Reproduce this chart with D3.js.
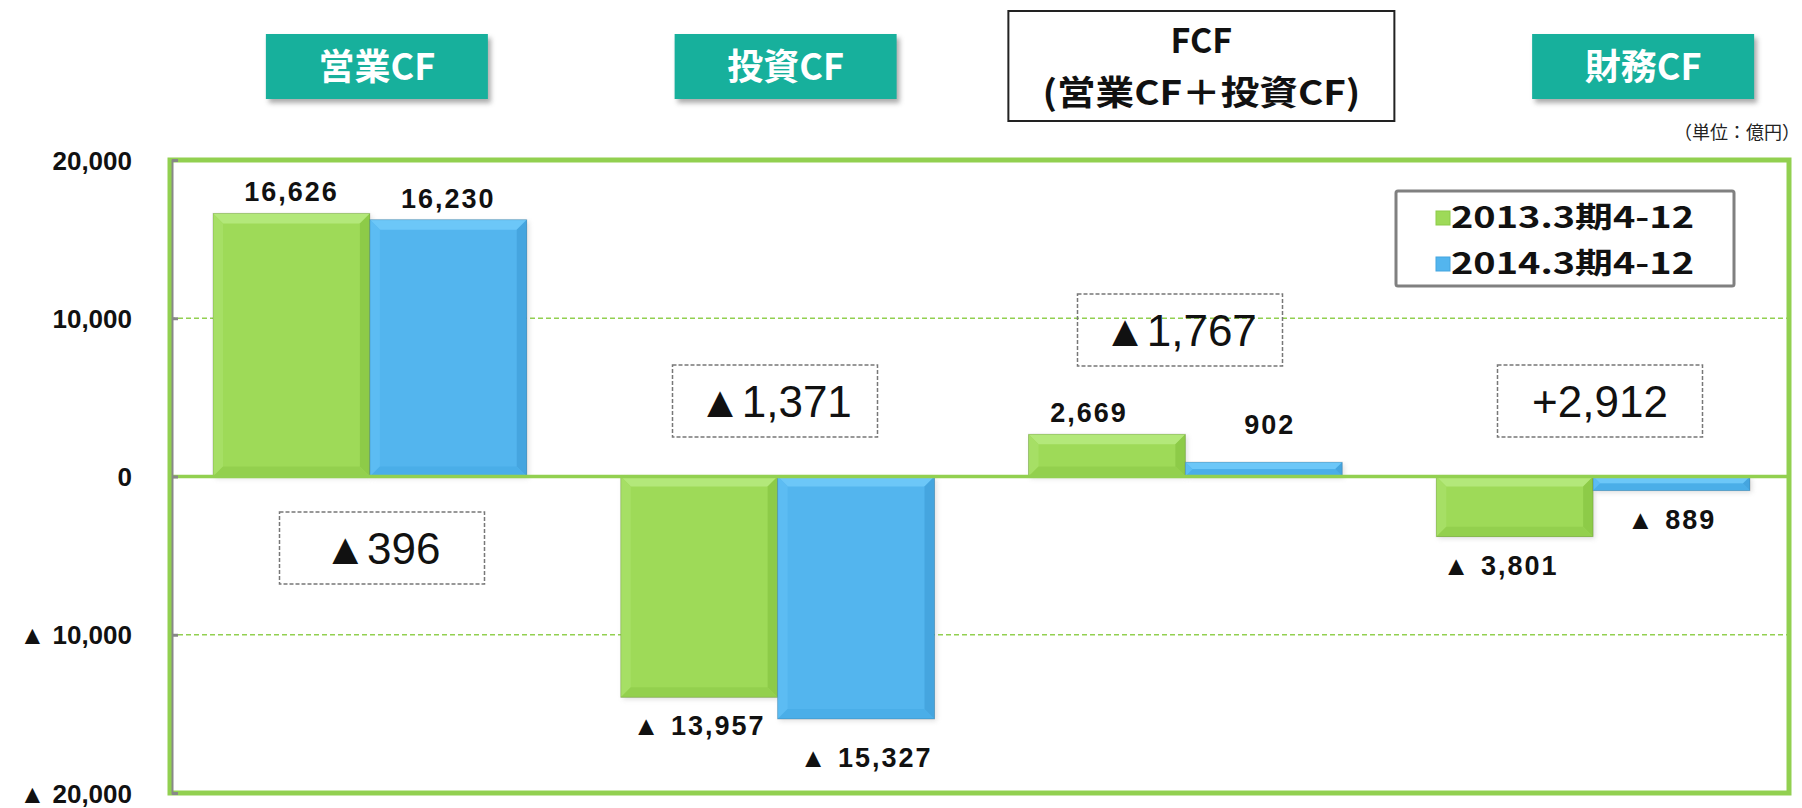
<!DOCTYPE html>
<html><head><meta charset="utf-8">
<script src="https://cdn.jsdelivr.net/npm/d3@7"></script>
<style>
html,body{margin:0;padding:0;background:#fff;}
svg{display:block;}
.num{font-family:"Liberation Sans Narrow","Liberation Sans",Arial,sans-serif;}
.jp{font-family:"Noto Sans CJK JP","Noto Sans",sans-serif;}
</style></head>
<body>
<svg id="chart" width="1802" height="808"></svg>
<script>
// ---- data ----
const categories = ["営業CF", "投資CF", "FCF", "財務CF"];
const headerLines = [["営業CF"], ["投資CF"], ["FCF", "(営業CF＋投資CF)"], ["財務CF"]];
const seriesNames = ["2013.3期4-12", "2014.3期4-12"];
const values2013 = [16626, -13957, 2669, -3801];
const values2014 = [16230, -15327, 902, -889];
const diffLabels = ["▲396", "▲1,371", "▲1,767", "+2,912"];
const yTicks = [20000, 10000, 0, -10000, -20000];
const unitLabel = "（単位：億円）";

// ---- layout ----
const svg = d3.select("#chart");
const frame = {left: 170, right: 1789, top: 160, bottom: 793};
const colors = {
  green: {main: "#9EDA58", light: "#B3E87A", dark: "#8DCB48", side: "#A6DF65", bottom: "#93D04E"},
  blue:  {main: "#53B5EE", light: "#6CC7F8", dark: "#45A5DF", side: "#5CBCF3", bottom: "#4AAEE8"}
};
const seriesColors = [colors.green, colors.blue];

const y = d3.scaleLinear().domain([-20000, 20000]).range([frame.bottom, frame.top]);
const x0 = d3.scaleBand().domain(categories).range([166, 1797]).padding(0);
const bw = x0.bandwidth();
const x1 = d3.scaleBand().domain(seriesNames).range([47, bw - 47]).padding(0);

const defs = svg.append("defs");
const blur = defs.append("filter").attr("id", "shadow").attr("x", "-20%").attr("y", "-20%").attr("width", "140%").attr("height", "150%");
blur.append("feGaussianBlur").attr("stdDeviation", 2.5);

// header boxes
const headerOffsets = [7, 8, 16, 50];
categories.forEach((c, i) => {
  const cx = x0(c) + bw / 2 + headerOffsets[i];
  const g = svg.append("g");
  if (i === 2) {
    const w = 386, h = 110, top = 11;
    g.append("rect").attr("x", cx - w / 2).attr("y", top).attr("width", w).attr("height", h)
      .attr("fill", "#fff").attr("stroke", "#222").attr("stroke-width", 2);
    headerLines[i].forEach((t, k) => {
      const tx = g.append("text").attr("class", "jp").attr("x", cx).attr("y", top + 42 + k * 52)
        .attr("text-anchor", "middle").attr("font-size", 34).attr("font-weight", "bold")
        .attr("fill", "#111").text(t);
      if (k === 1) tx.attr("textLength", 318).attr("lengthAdjust", "spacingAndGlyphs");
    });
  } else {
    const w = 222, h = 65, top = 34;
    g.append("rect").attr("x", cx - w / 2 + 3).attr("y", top + 4).attr("width", w).attr("height", h)
      .attr("fill", "#888").attr("opacity", 0.7).attr("filter", "url(#shadow)");
    g.append("rect").attr("x", cx - w / 2).attr("y", top).attr("width", w).attr("height", h)
      .attr("fill", "#17B09C");
    g.append("text").attr("class", "jp").attr("x", cx).attr("y", top + h / 2 + 13)
      .attr("text-anchor", "middle").attr("font-size", 36).attr("font-weight", "bold")
      .attr("fill", "#fff").text(headerLines[i][0]);
  }
});

// unit label
svg.append("text").attr("class", "jp").attr("x", 1800).attr("y", 139).attr("text-anchor", "end")
  .attr("font-size", 18).attr("fill", "#222").text(unitLabel);

// grid lines (dashed)
svg.append("g").selectAll("line").data(yTicks.filter(v => v !== 0 && Math.abs(v) !== 20000)).join("line")
  .attr("x1", frame.left).attr("x2", frame.right)
  .attr("y1", d => y(d)).attr("y2", d => y(d))
  .attr("stroke", "#92D050").attr("stroke-width", 1.5).attr("stroke-dasharray", "5,3");

// bars with bevel
function bevelBar(g, bx, by, w, h, col) {
  const b = Math.min(10, h / 2, w / 2);
  g.append("rect").attr("x", bx + 2).attr("y", by + 2).attr("width", w).attr("height", h)
    .attr("fill", "#999").attr("opacity", 0.3).attr("filter", "url(#shadow)");
  g.append("rect").attr("x", bx).attr("y", by).attr("width", w).attr("height", h).attr("fill", col.main);
  const poly = (pts, fill) => g.append("polygon").attr("points", pts.map(p => p.join(",")).join(" ")).attr("fill", fill);
  poly([[bx, by], [bx + w, by], [bx + w - b, by + b], [bx + b, by + b]], col.light);
  poly([[bx, by], [bx + b, by + b], [bx + b, by + h - b], [bx, by + h]], col.side);
  poly([[bx + w, by], [bx + w, by + h], [bx + w - b, by + h - b], [bx + w - b, by + b]], col.dark);
  poly([[bx, by + h], [bx + b, by + h - b], [bx + w - b, by + h - b], [bx + w, by + h]], col.bottom);
  g.append("rect").attr("x", bx).attr("y", by).attr("width", w).attr("height", h)
    .attr("fill", "none").attr("stroke", "#000").attr("stroke-opacity", 0.15).attr("stroke-width", 1);
}
const barsG = svg.append("g");
const allSeries = [values2013, values2014];
categories.forEach((c, i) => {
  allSeries.forEach((vals, s) => {
    const v = vals[i];
    const bx = x0(c) + x1(seriesNames[s]);
    const by = y(Math.max(0, v));
    const h = Math.abs(y(v) - y(0));
    bevelBar(barsG, bx, by, x1.bandwidth(), h, seriesColors[s]);
  });
});

// frame
svg.append("rect").attr("x", frame.left).attr("y", frame.top)
  .attr("width", frame.right - frame.left).attr("height", frame.bottom - frame.top)
  .attr("fill", "none").attr("stroke", "#92D050").attr("stroke-width", 5);
// zero line
svg.append("line").attr("x1", frame.left).attr("x2", frame.right).attr("y1", y(0)).attr("y2", y(0))
  .attr("stroke", "#92D050").attr("stroke-width", 3.5);

// y axis
const fmt = d3.format(",");
const tickFmt = v => v < 0 ? "▲ " + fmt(-v) : fmt(v);
const yAxis = d3.axisLeft(y).tickValues(yTicks).tickFormat(tickFmt).tickSize(-6).tickPadding(40);
const ax = svg.append("g").attr("transform", `translate(${frame.left + 2},0)`).call(yAxis);
ax.select(".domain").attr("stroke", "#888").attr("stroke-width", 2);
ax.selectAll(".tick line").attr("stroke", "#888").attr("stroke-width", 3);
ax.selectAll(".tick text").attr("class", "num").attr("font-size", 26).attr("font-weight", "bold")
  .attr("fill", "#111").attr("dy", "0.35em");

// value labels
const labelFmt = v => v < 0 ? "▲ " + fmt(-v) : fmt(v);
const labelDx = [[0, 0], [0, 10], [-18, 6], [-14, 0]];
const labelsG = svg.append("g");
categories.forEach((c, i) => {
  allSeries.forEach((vals, s) => {
    const v = vals[i];
    const cx = x0(c) + x1(seriesNames[s]) + x1.bandwidth() / 2 + labelDx[i][s];
    let ly;
    if (v >= 0) ly = y(v) - 12;
    else ly = y(v) + 38;
    if (i === 2 && s === 1) ly = y(v) - 28;
    if (i === 1 && s === 1) ly = y(v) + 48;
    labelsG.append("text").attr("class", "num").attr("x", cx).attr("y", ly)
      .attr("text-anchor", "middle").attr("font-size", 27).attr("font-weight", "bold")
      .attr("letter-spacing", 2).attr("fill", "#111").text(labelFmt(v));
  });
});

// difference boxes
const diffPos = [[382, 548], [775, 401], [1180, 330], [1600, 401]];
diffLabels.forEach((t, i) => {
  const [cx, cy] = diffPos[i];
  const w = 205, h = 72;
  svg.append("rect").attr("x", cx - w / 2).attr("y", cy - h / 2).attr("width", w).attr("height", h)
    .attr("fill", "none").attr("stroke", "#777").attr("stroke-width", 1.5).attr("stroke-dasharray", "4,2");
  svg.append("text").attr("class", "num").attr("x", cx).attr("y", cy + 16)
    .attr("text-anchor", "middle").attr("font-size", 44).attr("fill", "#111").text(t);
});

// legend
const lg = svg.append("g");
lg.append("rect").attr("x", 1396).attr("y", 191).attr("width", 338).attr("height", 95)
  .attr("rx", 2).attr("fill", "#fff").attr("stroke", "#808080").attr("stroke-width", 3);
seriesNames.forEach((n, s) => {
  const ly = 218 + s * 46;
  lg.append("rect").attr("x", 1436).attr("y", ly - 7).attr("width", 14).attr("height", 14)
    .attr("fill", seriesColors[s].main).attr("stroke", seriesColors[s].dark).attr("stroke-width", 1);
  lg.append("text").attr("class", "jp").attr("x", 1451).attr("y", ly + 10).attr("font-size", 29)
    .attr("font-weight", "bold").attr("fill", "#111")
    .attr("textLength", 243).attr("lengthAdjust", "spacingAndGlyphs").text(n);
});
</script>
</body></html>
